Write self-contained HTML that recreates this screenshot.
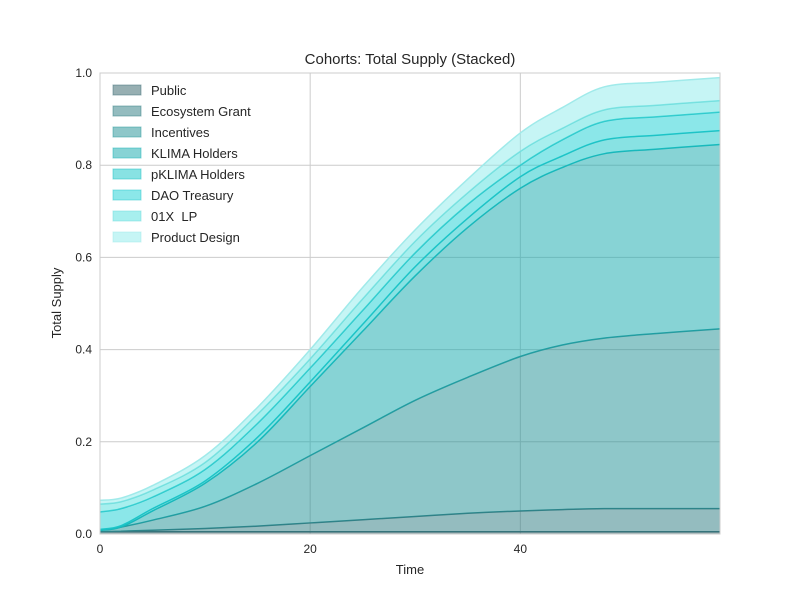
<!DOCTYPE html>
<html><head><meta charset="utf-8"><style>
body{margin:0;background:#fff}
svg{display:block;font-family:"Liberation Sans",Arial,sans-serif}
text{white-space:pre}
</style></head><body>
<svg id="c" width="800" height="600"></svg>
<script>
const xs=[0,2,5,10,15,20,25,30,35,40,44,48,53,59];
const seriesNames=["Public","Ecosystem Grant","Incentives","KLIMA Holders","pKLIMA Holders","DAO Treasury","01X  LP","Product Design"];
const publicVals=[.005,.005,.005,.005,.005,.005,.005,.005,.005,.005,.005,.005,.005,.005];
const ecoVals=[0,.001,.003,.007,.012,.019,.026,.033,.04,.045,.048,.05,.05,.05];
const incVals=[.003,.009,.022,.048,.093,.146,.199,.252,.295,.335,.357,.37,.38,.39];
const klimaVals=[0,0,.02,.05,.09,.15,.21,.27,.325,.365,.385,.4,.4,.4];
const pklimaVals=[.002,.003,.005,.005,.01,.01,.015,.02,.02,.025,.025,.03,.03,.03];
const daoVals=[.038,.037,.025,.025,.03,.03,.03,.03,.03,.025,.035,.04,.04,.04];
const lpVals=[.017,.015,.015,.015,.02,.02,.025,.025,.025,.03,.025,.025,.025,.025];
const prodVals=[.008,.008,.01,.015,.015,.02,.025,.025,.03,.04,.045,.05,.05,.05];
const xTicks=[0,20,40];
const yTicks=[0,0.2,0.4,0.6,0.8,1.0];
const allVals=[publicVals,ecoVals,incVals,klimaVals,pklimaVals,daoVals,lpVals,prodVals];
const fills=["#2f5f66","#2a7a80","#1e8f93","#10a8ab","#12c6c8","#18d0d4","#50e0de","#8eecec"];
const lines=["#3f7078","#357f85","#2a9a9e","#1bb5b8","#1fc0c3","#2cc8cb","#70dedd","#a0eaea"];
const L=100,R=720,T=73,B=534,X0=0,X1=59;
const sx=v=>L+(v-X0)/(X1-X0)*(R-L);
const sy=v=>B-v*(B-T);
const svg=document.getElementById('c');
const NS="http://www.w3.org/2000/svg";
function el(t,a,p){const e=document.createElementNS(NS,t);for(const k in a)e.setAttribute(k,a[k]);(p||svg).appendChild(e);return e;}
function smooth(pts){
 let d='M'+pts[0][0]+','+pts[0][1];
 for(let i=0;i<pts.length-1;i++){
  const p0=pts[Math.max(0,i-1)],p1=pts[i],p2=pts[i+1],p3=pts[Math.min(pts.length-1,i+2)];
  const c1=[p1[0]+(p2[0]-p0[0])/6,p1[1]+(p2[1]-p0[1])/6];
  const c2=[p2[0]-(p3[0]-p1[0])/6,p2[1]-(p3[1]-p1[1])/6];
  d+='C'+c1[0]+','+c1[1]+' '+c2[0]+','+c2[1]+' '+p2[0]+','+p2[1];
 }
 return d;
}
xTicks.forEach(t=>{const g=el('line',{x1:sx(t),x2:sx(t),y1:T,y2:B,stroke:'#cccccc','stroke-width':1});


const tx=el('text',{x:sx(t),y:B+19,'text-anchor':'middle','font-size':12,fill:'#262626'});tx.textContent=t;

});
yTicks.forEach(t=>{const g=el('line',{x1:L,x2:R,y1:sy(t),y2:sy(t),stroke:'#cccccc','stroke-width':1});


const tx=el('text',{x:L-8,y:sy(t)+4,'text-anchor':'end','font-size':12,fill:'#262626'});tx.textContent=t.toFixed(1);

});
let base=xs.map(()=>0);
allVals.forEach((vals,i)=>{
 const top=base.map((b,j)=>b+vals[j]);
 const tp=xs.map((x,j)=>[sx(x),sy(top[j])]);
 const bp=xs.map((x,j)=>[sx(x),sy(base[j])]).reverse();
 const d=smooth(tp)+'L'+smooth(bp).slice(1)+'Z';
 const a=el('path',{d:d,fill:fills[i],'fill-opacity':0.5,stroke:'none'});
 
 
 const ln=el('path',{d:smooth(tp),fill:'none',stroke:lines[i],'stroke-width':1.5});
 
 
 base=top;
});
const fr=el('rect',{x:L,y:T,width:R-L,height:B-T,fill:'none',stroke:'#cccccc','stroke-width':1});


seriesNames.forEach((n,i)=>{
 const y=91+i*21;
 const r=el('rect',{x:113,y:y-6,width:28,height:10,fill:fills[i],'fill-opacity':0.5,stroke:lines[i],'stroke-opacity':0.5});
 
 
 const t=el('text',{x:151,y:y+4,'font-size':13,fill:'#262626'});t.textContent=n;
 
 
});
const ti=el('text',{x:410,y:64,'text-anchor':'middle','font-size':15,fill:'#262626'});ti.textContent='Cohorts: Total Supply (Stacked)';


const xl=el('text',{x:410,y:574,'text-anchor':'middle','font-size':13,fill:'#262626'});xl.textContent='Time';


const yl=el('text',{x:61,y:303,'text-anchor':'middle','font-size':13,fill:'#262626',transform:'rotate(-90 61 303)'});yl.textContent='Total Supply';


</script>
</body></html>
